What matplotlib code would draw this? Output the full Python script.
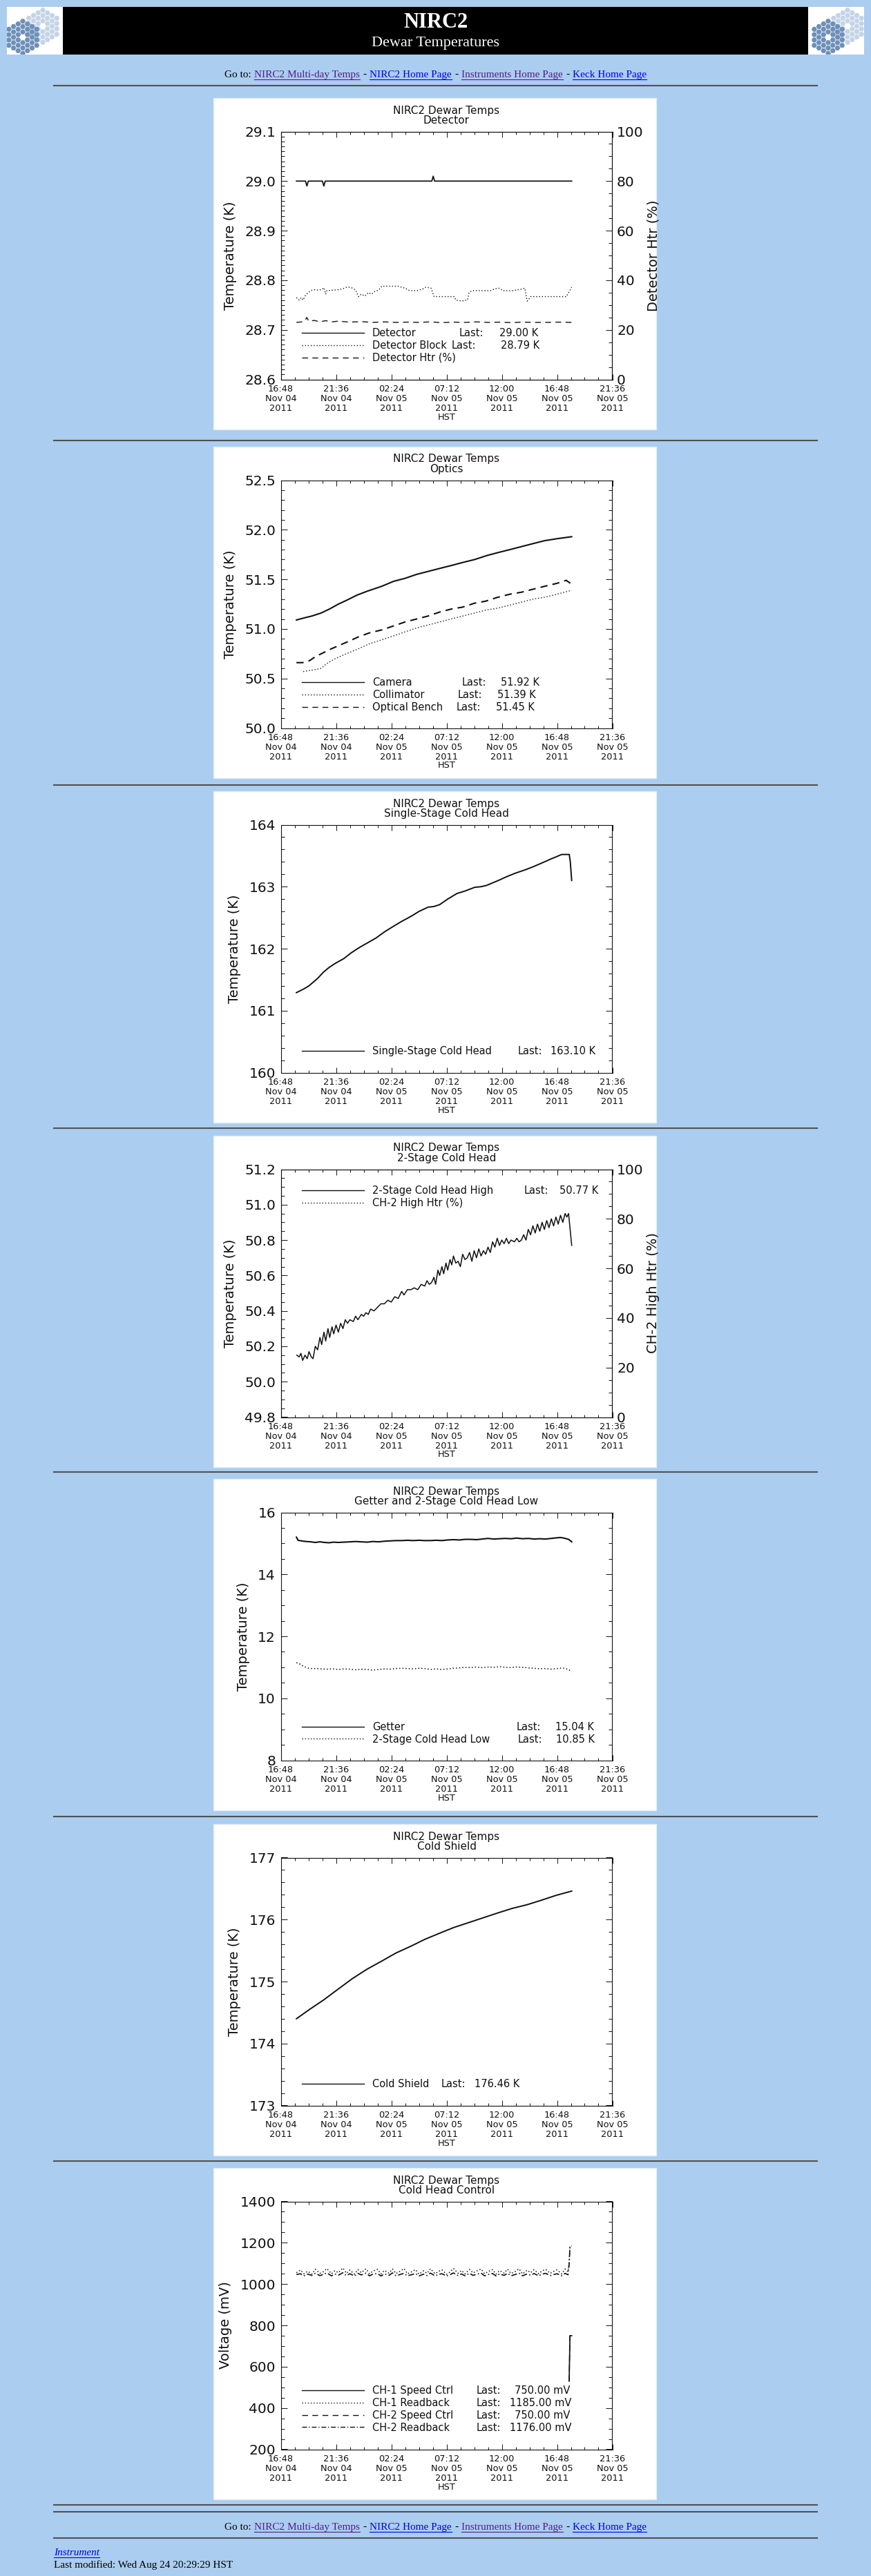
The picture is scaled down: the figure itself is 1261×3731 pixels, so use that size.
import matplotlib
matplotlib.use('Agg')
import matplotlib.pyplot as plt
from matplotlib.patches import Rectangle, RegularPolygon
from matplotlib.lines import Line2D
from matplotlib.ticker import MultipleLocator, FixedLocator, FixedFormatter, FormatStrFormatter
from matplotlib.transforms import Bbox
import numpy as np

# ------------------------------------------------------------------ data
x_tick_hours = [0, 4.8, 9.6, 14.4, 19.2, 24.0, 28.8]          # hours after 16:48 Nov 04
x_tick_labels = ["16:48\nNov 04\n2011", "21:36\nNov 04\n2011", "02:24\nNov 05\n2011",
                 "07:12\nNov 05\n2011", "12:00\nNov 05\n2011", "16:48\nNov 05\n2011",
                 "21:36\nNov 05\n2011"]

# Panel 1 : Detector
det_t = [1.36, 2.15, 2.27, 2.39, 3.62, 3.74, 3.86, 13.12, 13.24, 13.36, 25.27]
det_v = [29.00, 29.00, 28.99, 29.00, 29.00, 28.99, 29.00, 29.00, 29.01, 29.00, 29.00]
blk_pts = [(1.36, 28.765), (1.6, 28.760), (1.8, 28.765), (1.95, 28.760), (2.1, 28.768),
           (2.32, 28.774), (2.5, 28.777), (2.7, 28.780), (3.0, 28.781), (3.3, 28.780),
           (3.6, 28.782), (3.75, 28.785), (3.9, 28.772), (4.0, 28.779), (4.5, 28.780),
           (5.0, 28.781), (5.4, 28.783), (5.74, 28.786), (6.0, 28.786), (6.24, 28.784),
           (6.5, 28.780), (6.75, 28.767), (7.0, 28.772), (7.3, 28.768), (7.6, 28.775),
           (7.88, 28.772), (8.2, 28.778), (8.5, 28.780), (8.77, 28.788), (9.5, 28.788),
           (10.2, 28.788), (10.79, 28.784), (11.2, 28.779), (11.8, 28.779), (12.3, 28.782),
           (12.6, 28.786), (13.06, 28.784), (13.31, 28.767), (14.0, 28.767), (14.6, 28.767),
           (15.08, 28.767), (15.21, 28.760), (15.7, 28.758), (16.22, 28.760), (16.35, 28.775),
           (16.6, 28.779), (17.5, 28.779), (18.2, 28.779), (18.62, 28.783), (19.0, 28.784),
           (19.3, 28.779), (20.2, 28.779), (20.89, 28.782), (21.2, 28.784), (21.4, 28.758),
           (21.55, 28.762), (21.7, 28.767), (22.5, 28.767), (23.5, 28.767), (24.4, 28.767),
           (24.81, 28.767), (25.0, 28.775), (25.27, 28.786)]
htr_t = [1.36, 1.8, 2.1, 2.25, 2.45, 2.9, 3.4, 3.9, 4.4, 5.0, 6.0, 7.0, 8.0, 9.0, 10.0,
         11.0, 12.0, 13.0, 14.0, 15.0, 16.0, 17.0, 18.0, 19.0, 20.0, 21.0, 22.0, 23.0, 24.0, 25.27]
htr_v = [23.0, 23.2, 23.6, 25.0, 23.4, 23.8, 23.2, 23.7, 23.2, 23.5, 23.1, 23.3, 23.0, 23.2, 23.0,
         23.1, 23.0, 23.2, 22.9, 23.1, 23.0, 23.2, 23.0, 23.1, 22.9, 23.1, 23.0, 23.0, 23.1, 23.0]

# Panel 2 : Optics
cam_pts = [(1.36, 51.09), (2.0, 51.11), (2.7, 51.13), (3.5, 51.16), (4.22, 51.20), (5.0, 51.25),
           (5.74, 51.29), (6.6, 51.34), (7.5, 51.38), (8.77, 51.43), (9.8, 51.48), (10.79, 51.51),
           (11.8, 51.55), (12.8, 51.58), (13.8, 51.61), (14.83, 51.64), (15.8, 51.67), (16.85, 51.70),
           (17.9, 51.74), (18.87, 51.77), (19.9, 51.80), (20.9, 51.83), (21.9, 51.86), (22.92, 51.89),
           (24.0, 51.91), (25.27, 51.93)]
col_pts = [(1.95, 50.57), (2.5, 50.58), (3.46, 50.60), (4.0, 50.65), (4.72, 50.70), (5.7, 50.75),
           (6.75, 50.80), (7.7, 50.85), (8.77, 50.89), (9.8, 50.93), (10.79, 50.97), (11.8, 51.01),
           (12.8, 51.04), (13.8, 51.07), (14.8, 51.10), (15.8, 51.13), (16.85, 51.16), (17.8, 51.19),
           (18.87, 51.21), (19.9, 51.24), (20.9, 51.27), (21.9, 51.30), (22.92, 51.32), (24.0, 51.35),
           (25.27, 51.39)]
ben_pts = [(1.36, 50.66), (1.9, 50.66), (2.5, 50.68), (3.0, 50.72), (3.7, 50.76), (4.4, 50.80),
           (5.2, 50.84), (6.0, 50.88), (6.75, 50.92), (7.7, 50.96), (8.77, 50.99), (9.8, 51.03),
           (10.79, 51.07), (11.8, 51.10), (12.8, 51.13), (13.8, 51.17), (14.8, 51.20), (15.8, 51.22),
           (16.85, 51.26), (17.8, 51.28), (18.87, 51.32), (19.9, 51.35), (20.9, 51.37), (21.9, 51.40),
           (22.92, 51.43), (24.0, 51.46), (24.8, 51.49), (25.27, 51.45)]

# Panel 3 : Single-stage cold head
ss_pts = [(1.36, 161.29), (2.0, 161.35), (2.45, 161.40), (3.2, 161.52), (3.7, 161.62), (4.22, 161.70),
          (4.8, 161.77), (5.48, 161.84), (6.1, 161.93), (6.75, 162.01), (7.5, 162.09), (8.26, 162.17),
          (9.0, 162.27), (9.78, 162.36), (10.5, 162.44), (11.3, 162.52), (12.0, 162.60), (12.8, 162.67),
          (13.3, 162.68), (13.8, 162.71), (14.5, 162.80), (15.3, 162.89), (16.0, 162.93), (16.85, 162.99),
          (17.4, 163.00), (17.86, 163.02), (18.9, 163.10), (19.6, 163.16), (20.4, 163.22), (21.2, 163.27),
          (21.9, 163.32), (22.9, 163.40), (23.5, 163.45), (23.9, 163.48), (24.4, 163.52), (25.06, 163.52),
          (25.15, 163.40), (25.27, 163.10)]

# Panel 4 : 2-stage cold head high
ch2_pts = [(1.40, 50.15), (1.60, 50.14), (1.75, 50.16), (1.90, 50.12), (2.10, 50.15), (2.30, 50.13),
           (2.45, 50.17), (2.65, 50.14), (2.80, 50.13), (3.00, 50.20), (3.20, 50.18), (3.40, 50.25),
           (3.55, 50.21), (3.75, 50.28), (3.90, 50.23), (4.10, 50.30), (4.25, 50.25), (4.45, 50.31),
           (4.60, 50.27), (4.80, 50.32), (5.00, 50.28), (5.20, 50.33), (5.40, 50.30), (5.60, 50.35),
           (5.80, 50.33), (6.00, 50.35), (6.30, 50.34), (6.50, 50.37), (6.70, 50.35), (7.00, 50.38),
           (7.20, 50.37), (7.40, 50.39), (7.60, 50.38), (7.80, 50.41), (8.10, 50.40), (8.40, 50.42),
           (8.70, 50.44), (9.00, 50.44), (9.30, 50.46), (9.60, 50.45), (9.90, 50.48), (10.20, 50.47),
           (10.50, 50.51), (10.70, 50.49), (11.00, 50.52), (11.30, 50.52), (11.60, 50.53), (11.90, 50.52),
           (12.20, 50.55), (12.50, 50.54), (12.70, 50.57), (12.90, 50.55), (13.10, 50.56), (13.30, 50.59),
           (13.45, 50.55), (13.65, 50.63), (13.80, 50.60), (14.00, 50.65), (14.15, 50.61), (14.35, 50.67),
           (14.50, 50.63), (14.70, 50.69), (14.85, 50.66), (15.00, 50.71), (15.20, 50.67), (15.40, 50.68),
           (15.60, 50.65), (15.80, 50.72), (16.00, 50.69), (16.20, 50.70), (16.40, 50.73), (16.60, 50.68),
           (16.80, 50.74), (17.00, 50.70), (17.20, 50.75), (17.40, 50.71), (17.60, 50.74), (17.80, 50.72),
           (18.00, 50.76), (18.20, 50.73), (18.40, 50.79), (18.60, 50.76), (18.80, 50.81), (19.00, 50.77),
           (19.20, 50.80), (19.40, 50.78), (19.60, 50.81), (19.80, 50.78), (20.00, 50.80), (20.30, 50.79),
           (20.50, 50.81), (20.70, 50.79), (20.90, 50.80), (21.10, 50.83), (21.30, 50.80), (21.50, 50.86),
           (21.70, 50.83), (21.90, 50.88), (22.10, 50.84), (22.30, 50.89), (22.50, 50.85), (22.70, 50.90),
           (22.90, 50.86), (23.10, 50.91), (23.30, 50.87), (23.50, 50.92), (23.70, 50.88), (23.90, 50.93),
           (24.10, 50.89), (24.30, 50.94), (24.50, 50.90), (24.70, 50.95), (24.85, 50.93), (25.00, 50.95),
           (25.27, 50.77)]

# Panel 5 : Getter and 2-stage cold head low
get_pts = [(1.36, 15.20), (1.5, 15.10), (1.8, 15.08), (2.2, 15.06), (2.6, 15.05), (3.0, 15.03),
           (3.4, 15.05), (3.8, 15.03), (4.2, 15.02), (4.6, 15.04), (5.0, 15.03), (5.5, 15.04),
           (6.0, 15.05), (6.5, 15.06), (7.0, 15.05), (7.5, 15.04), (8.0, 15.06), (8.5, 15.05),
           (9.0, 15.07), (9.5, 15.08), (10.0, 15.09), (10.5, 15.09), (11.0, 15.10), (11.5, 15.09),
           (12.0, 15.10), (12.5, 15.09), (13.0, 15.09), (13.5, 15.10), (14.0, 15.09), (14.5, 15.11),
           (15.0, 15.12), (15.5, 15.11), (16.0, 15.13), (16.5, 15.13), (17.0, 15.12), (17.5, 15.14),
           (18.0, 15.16), (18.5, 15.14), (19.0, 15.15), (19.5, 15.16), (20.0, 15.15), (20.5, 15.17),
           (21.0, 15.15), (21.5, 15.16), (22.0, 15.14), (22.5, 15.15), (23.0, 15.14), (23.5, 15.16),
           (24.0, 15.18), (24.3, 15.19), (24.6, 15.17), (25.0, 15.13), (25.27, 15.05)]
low_pts = [(1.36, 11.15), (1.6, 11.12), (1.9, 11.05), (2.2, 11.00), (2.5, 10.96), (3.0, 10.96),
           (3.5, 10.95), (4.0, 10.94), (4.5, 10.95), (5.0, 10.93), (5.5, 10.95), (6.0, 10.94),
           (6.5, 10.92), (7.0, 10.94), (7.5, 10.93), (8.0, 10.91), (8.5, 10.93), (9.0, 10.95),
           (9.5, 10.94), (10.0, 10.96), (10.5, 10.97), (11.0, 10.96), (11.5, 10.95), (12.0, 10.97),
           (12.5, 10.96), (13.0, 10.93), (13.5, 10.95), (14.0, 10.93), (14.5, 10.95), (15.0, 10.97),
           (15.5, 10.98), (16.0, 11.00), (16.5, 10.99), (17.0, 11.01), (17.5, 10.99), (18.0, 11.01),
           (18.5, 11.00), (19.0, 11.02), (19.5, 11.00), (20.0, 10.99), (20.5, 11.01), (21.0, 11.00),
           (21.5, 10.98), (22.0, 10.97), (22.5, 10.95), (23.0, 10.96), (23.5, 10.94), (24.0, 10.96),
           (24.5, 10.98), (25.0, 10.93), (25.27, 10.85)]

# Panel 6 : Cold shield
cs_pts = [(1.36, 174.40), (2.5, 174.55), (3.7, 174.70), (5.0, 174.88), (6.24, 175.05), (7.5, 175.20),
          (8.77, 175.33), (10.0, 175.46), (11.3, 175.57), (12.5, 175.68), (13.8, 175.78), (15.0, 175.87),
          (16.3, 175.95), (17.6, 176.03), (18.9, 176.11), (20.1, 176.18), (21.4, 176.24), (22.6, 176.31),
          (23.9, 176.39), (25.27, 176.46)]

# Panel 7 : Cold head control
p7_t = [1.36, 1.7, 2.0, 2.35, 2.7, 3.0, 3.4, 3.7, 4.0, 4.4, 4.7, 5.0, 5.4, 5.7, 6.0,
        6.4, 6.7, 7.0, 7.4, 7.7, 8.0, 8.4, 8.7, 9.0, 9.4, 9.7, 10.0, 10.4, 10.7, 11.0,
        11.4, 11.7, 12.0, 12.4, 12.7, 13.0, 13.4, 13.7, 14.0, 14.4, 14.7, 15.0, 15.4, 15.7, 16.0,
        16.4, 16.7, 17.0, 17.4, 17.7, 18.0, 18.4, 18.7, 19.0, 19.4, 19.7, 20.0, 20.4, 20.7, 21.0,
        21.4, 21.7, 22.0, 22.4, 22.7, 23.0, 23.4, 23.7, 24.0, 24.4, 24.7, 24.95, 25.05, 25.12, 25.27]
rb1_v = [1055, 1068, 1050, 1062, 1048, 1072, 1052, 1060, 1075, 1050, 1065, 1055, 1078, 1052, 1068,
         1048, 1070, 1055, 1074, 1050, 1062, 1072, 1049, 1066, 1053, 1073, 1051, 1063, 1075, 1050,
         1060, 1070, 1048, 1064, 1052, 1074, 1050, 1061, 1069, 1047, 1058, 1076, 1052, 1066, 1049,
         1071, 1054, 1063, 1073, 1050, 1060, 1070, 1048, 1065, 1053, 1072, 1051, 1062, 1074, 1049,
         1067, 1055, 1070, 1050, 1064, 1072, 1052, 1061, 1069, 1049, 1073, 1060, 1110, 1185, 1185]
rb2_v = [1046, 1050, 1040, 1048, 1042, 1052, 1041, 1047, 1054, 1040, 1049, 1043, 1055, 1041, 1050,
         1039, 1052, 1044, 1053, 1040, 1048, 1051, 1039, 1049, 1042, 1054, 1040, 1047, 1052, 1040,
         1046, 1051, 1039, 1048, 1041, 1053, 1040, 1047, 1050, 1039, 1045, 1054, 1041, 1049, 1040,
         1052, 1042, 1047, 1053, 1040, 1046, 1051, 1039, 1049, 1042, 1052, 1040, 1047, 1053, 1040,
         1049, 1043, 1051, 1040, 1048, 1052, 1041, 1046, 1050, 1040, 1052, 1045, 1095, 1176, 1176]
spd_t = [25.05, 25.12, 25.27]
spd1_v = [530, 750, 750]
spd2_v = [530, 750, 750]

nav_links = ["NIRC2 Multi-day Temps", "NIRC2 Home Page", "Instruments Home Page", "Keck Home Page"]
nav_colors = ['#551A8B', '#0000EE', '#551A8B', '#0000EE']

# ------------------------------------------------------------------ layout
W, H = 1261, 3731
BG = '#ABCDEF'
INK = '#101010'
DOT = (0, (1.0, 2.0))
DASH = (0, (6.0, 4.6))
DASHDOT = (0, (5.0, 2.0, 1.0, 2.0))
LW = 1.0
LWS = 1.25          # solid data lines
LEGFS = 10.5

PX0 = 309
PW, PH = 641, 480
PL, PR, PT, PB = 97.5, 577.5, 48.5, 407.5
panel_tops = [142, 647, 1146, 1645, 2142, 2642, 3140]
hr_ys = [124, 638, 1137, 1634, 2132, 2631, 3130, 3628, 3638, 3676]

plt.rcParams['font.family'] = ['DejaVu Sans']
fig = plt.figure(figsize=(W / 100, H / 100), dpi=100, facecolor=BG)
page = fig.add_axes([0, 0, 1, 1], zorder=0)
page.set_xlim(0, W); page.set_ylim(H, 0); page.axis('off')
over = fig.add_axes([0, 0, 1, 1], zorder=10)
over.set_xlim(0, W); over.set_ylim(H, 0); over.axis('off')
renderer = fig.canvas.get_renderer()

# ---------------- header
page.add_patch(Rectangle((91, 10), 1079, 69, facecolor='black', edgecolor='none', zorder=2))
over.text(630.5, 33, "NIRC2", color='white', fontsize=22, fontweight='bold',
          family='Liberation Serif', ha='center', va='center')
over.text(630.5, 63, "Dewar Temperatures", color='white', fontsize=16,
          family='Liberation Serif', ha='center', va='center')


def mirror(cx, cy, r, color, clip):
    s3 = np.sqrt(3.0)
    sp = r * 1.12
    for q in range(-3, 4):
        for rr in range(-3, 4):
            s = -q - rr
            d = max(abs(q), abs(rr), abs(s))
            if d == 0 or d > 3:
                continue
            x = cx + 1.5 * sp * q
            y = cy + s3 * sp * (rr + q / 2.0)
            p = RegularPolygon((x, y), 6, radius=r, orientation=np.pi / 6,
                               facecolor=color, edgecolor='none', zorder=3)
            page.add_patch(p)
            p.set_clip_path(clip)


for lx, dark_c, light_c in [(10, (33, 54), (62, 38)), (1170, (1199, 54), (1227, 38))]:
    rect = Rectangle((lx, 10), 81, 69, facecolor='white', edgecolor='none', zorder=2)
    page.add_patch(rect)
    mirror(light_c[0], light_c[1], 4.0, '#C4D4E7', rect)
    mirror(dark_c[0], dark_c[1], 4.0, '#6E90B8', rect)


def nav_line(yc):
    pieces = [("Go to:", 'black', False)]
    for i, (lk, c) in enumerate(zip(nav_links, nav_colors)):
        if i > 0:
            pieces.append(("-", 'black', False))
        pieces.append((lk, c, True))
    texts = []
    for s, c, u in pieces:
        t = over.text(0, yc, s, color=c, fontsize=11, family='Liberation Serif',
                      ha='left', va='baseline')
        w = t.get_window_extent(renderer=renderer).width
        texts.append((t, w, c, u))
    gap = 4.5
    total = sum(w for _, w, _, _ in texts) + gap * (len(texts) - 1)
    x = 630.5 - total / 2
    for t, w, c, u in texts:
        t.set_x(x)
        if u:
            over.add_line(Line2D([x, x + w], [yc + 2.5, yc + 2.5], color=c, lw=0.8))
        x += w + gap


nav_line(112)
nav_line(3664)

for y in hr_ys:
    page.add_line(Line2D([78, 1183], [y, y], color='#505050', lw=1.5, zorder=2))

inst = over.text(78, 3701, "Instrument", color='#0000EE', fontsize=11, style='italic',
                 family='Liberation Serif', ha='left', va='baseline')
iw = inst.get_window_extent(renderer=renderer).width
over.add_line(Line2D([78, 78 + iw], [3703.5, 3703.5], color='#0000EE', lw=0.8))
over.text(78, 3719, "Last modified: Wed Aug 24 20:29:29 HST", color='black', fontsize=11,
          family='Liberation Serif', ha='left', va='baseline')


# ---------------- panels
def make_panel(idx, subtitle, ylim, ymaj, ymin, yfmt, ylabel, right_label=None):
    top = panel_tops[idx]
    page.add_patch(Rectangle((PX0, top), PW, PH, facecolor='white', edgecolor='#e2ecf6',
                             lw=1.0, zorder=2))
    left = (PX0 + PL) / W
    bottom = 1 - (top + PB) / H
    ax = fig.add_axes([left, bottom, (PR - PL) / W, (PB - PT) / H], zorder=2)
    ax.set_xlim(0, 28.8)
    ax.set_ylim(*ylim)
    ax.xaxis.set_major_locator(FixedLocator(x_tick_hours))
    ax.xaxis.set_major_formatter(FixedFormatter(x_tick_labels))
    ax.xaxis.set_minor_locator(MultipleLocator(1.2))
    ax.yaxis.set_major_locator(MultipleLocator(ymaj))
    ax.yaxis.set_minor_locator(MultipleLocator(ymin))
    ax.yaxis.set_major_formatter(FormatStrFormatter(yfmt))
    ax.tick_params(axis='x', which='both', direction='in', top=True, bottom=True,
                   labelsize=9.3, pad=5.5, width=0.7, color=INK, labelcolor=INK)
    ax.tick_params(axis='x', which='major', length=5.5)
    ax.tick_params(axis='x', which='minor', length=2.8)
    ax.tick_params(axis='y', which='both', direction='in', left=True,
                   right=(right_label is None), labelsize=14.5, pad=5.4, width=0.7,
                   color=INK, labelcolor=INK)
    ax.tick_params(axis='y', which='major', length=6.7)
    ax.tick_params(axis='y', which='minor', length=3.3)
    for lab in ax.get_xticklabels():
        lab.set_linespacing(1.1)
    ax.set_ylabel(ylabel, fontsize=14, labelpad=8, color=INK)
    for s in ax.spines.values():
        s.set_linewidth(0.8)
        s.set_color(INK)
    ax2 = None
    if right_label is not None:
        ax2 = ax.twinx()
        ax2.set_ylim(0, 100)
        ax2.yaxis.set_major_locator(MultipleLocator(20))
        ax2.yaxis.set_minor_locator(MultipleLocator(5))
        ax2.tick_params(axis='y', which='both', direction='in', right=True, labelsize=14.5,
                        pad=4.7, width=0.7, color=INK, labelcolor=INK)
        ax2.tick_params(axis='y', which='major', length=6.7)
        ax2.tick_params(axis='y', which='minor', length=3.3)
        for s in ax2.spines.values():
            s.set_linewidth(0.8)
            s.set_color(INK)
        t = over.text(PX0 + 627, top + 228, right_label, rotation=90, fontsize=14,
                      ha='left', va='center', color=INK)
        t.set_clip_box(Bbox.from_extents(PX0, H - (top + PH), PX0 + 640, H - top))
    cx = PX0 + (PL + PR) / 2
    over.text(cx, top + 18, "NIRC2 Dewar Temps", fontsize=11, ha='center', va='center', color=INK)
    over.text(cx, top + 32.5, subtitle, fontsize=11, ha='center', va='center', color=INK)
    over.text(cx, top + 462, "HST", fontsize=9.3, ha='center', va='center', color=INK)
    return ax, ax2, top


def legend(top, first_y, rows):
    for i, (ls, name, lx, vx, val) in enumerate(rows):
        y = top + first_y + i * 17.8
        over.add_line(Line2D([PX0 + 128, PX0 + 218], [y, y], color=INK, lw=LW, linestyle=ls))
        over.text(PX0 + 230, y + 5.3, name, fontsize=LEGFS, ha='left', va='baseline', color=INK)
        if val is not None:
            over.text(PX0 + lx, y + 5.3, "Last:", fontsize=LEGFS, ha='left', va='baseline', color=INK)
            over.text(PX0 + vx, y + 5.3, val, fontsize=LEGFS, ha='left', va='baseline', color=INK)


def unzip(pts):
    return [p[0] for p in pts], [p[1] for p in pts]


# Panel 1
ax, ax2, top = make_panel(0, "Detector", (28.6, 29.1), 0.1, 0.01, '%.1f', "Temperature (K)",
                          right_label="Detector Htr (%)")
ax.plot(det_t, det_v, color=INK, lw=LWS, linestyle='-')
bt, bv = unzip(blk_pts)
ax.plot(bt, bv, color=INK, lw=LW, linestyle=DOT)
ax2.plot(htr_t, htr_v, color=INK, lw=LW, linestyle=DASH)
legend(top, 340, [('-', 'Detector', 356, 414, '29.00 K'),
                  (DOT, 'Detector Block', 344.5, 416, '28.79 K'),
                  (DASH, 'Detector Htr (%)', None, None, None)])

# Panel 2
ax, _, top = make_panel(1, "Optics", (50.0, 52.5), 0.5, 0.1, '%.1f', "Temperature (K)")
t_, v_ = unzip(cam_pts)
ax.plot(t_, v_, color=INK, lw=1.5, linestyle='-')
t_, v_ = unzip(col_pts)
ax.plot(t_, v_, color=INK, lw=LW, linestyle=DOT)
t_, v_ = unzip(ben_pts)
ax.plot(t_, v_, color=INK, lw=1.5, linestyle=(0, (5.0, 3.5)))
legend(top, 341, [('-', 'Camera', 360, 416, '51.92 K'),
                  (DOT, 'Collimator', 354, 410.5, '51.39 K'),
                  (DASH, 'Optical Bench', 352, 408.5, '51.45 K')])

# Panel 3
ax, _, top = make_panel(2, "Single-Stage Cold Head", (160, 164), 1, 0.2, '%d', "Temperature (K)")
t_, v_ = unzip(ss_pts)
ax.plot(t_, v_, color=INK, lw=1.4)
legend(top, 375.5, [('-', 'Single-Stage Cold Head', 441, 487.6, '163.10 K')])

# Panel 4
ax, ax2, top = make_panel(3, "2-Stage Cold Head", (49.8, 51.2), 0.2, 0.05, '%.1f',
                          "Temperature (K)", right_label="CH-2 High Htr (%)")
t_, v_ = unzip(ch2_pts)
ax.plot(t_, v_, color=INK, lw=1.1)
legend(top, 79, [('-', '2-Stage Cold Head High', 450, 501.5, '50.77 K'),
                 (DOT, 'CH-2 High Htr (%)', None, None, None)])

# Panel 5
ax, _, top = make_panel(4, "Getter and 2-Stage Cold Head Low", (8, 16), 2, 0.5, '%d', "Temperature (K)")
t_, v_ = unzip(get_pts)
ax.plot(t_, v_, color=INK, lw=1.5)
t_, v_ = unzip(low_pts)
ax.plot(t_, v_, color=INK, lw=1.1, linestyle=DOT)
legend(top, 358.5, [('-', 'Getter', 438.4, 494.8, '15.04 K'),
                    (DOT, '2-Stage Cold Head Low', 440.5, 496, '10.85 K')])

# Panel 6
ax, _, top = make_panel(5, "Cold Shield", (173, 177), 1, 0.2, '%d', "Temperature (K)")
t_, v_ = unzip(cs_pts)
ax.plot(t_, v_, color=INK, lw=1.4)
legend(top, 375.5, [('-', 'Cold Shield', 329.8, 378.2, '176.46 K')])

# Panel 7
ax, _, top = make_panel(6, "Cold Head Control", (200, 1400), 200, 50, '%d', "Voltage (mV)")
ax.plot(p7_t, rb1_v, color=INK, lw=1.1, linestyle=DOT)
ax.plot(p7_t, rb2_v, color=INK, lw=1.2, linestyle=DASHDOT)
ax.plot(spd_t, spd2_v, color=INK, lw=LW, linestyle=DASH)
ax.plot(spd_t, spd1_v, color=INK, lw=LWS, linestyle='-')
legend(top, 322, [('-', 'CH-1 Speed Ctrl', 380.3, 435.9, '750.00 mV'),
                  (DOT, 'CH-1 Readback', 380.3, 428.7, '1185.00 mV'),
                  (DASH, 'CH-2 Speed Ctrl', 380.3, 435.9, '750.00 mV'),
                  (DASHDOT, 'CH-2 Readback', 380.3, 428.7, '1176.00 mV')])

fig.savefig('out.png', dpi=100, facecolor=BG)
